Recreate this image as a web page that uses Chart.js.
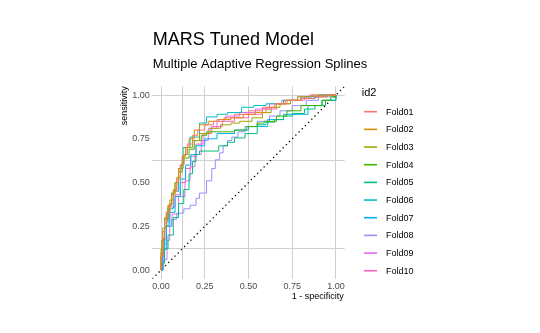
<!DOCTYPE html>
<html>
<head>
<meta charset="utf-8">
<script src="https://cdn.jsdelivr.net/npm/chart.js@4.4.1/dist/chart.umd.min.js"></script>
<style>
  html, body { margin: 0; padding: 0; background: #ffffff; }
  #wrap { width: 540px; height: 333px; }
</style>
</head>
<body>
<div id="wrap"><canvas id="roc" width="540" height="333"></canvas></div>
<script>
// === ROC data per fold (1 - specificity, sensitivity) ===
const foldNames = ["Fold01", "Fold02", "Fold03", "Fold04", "Fold05", "Fold06", "Fold07", "Fold08", "Fold09", "Fold10"];
const foldColors = ["#F8766D", "#D89000", "#A3A500", "#39B600", "#00BF7D", "#00BFC4", "#00B0F6", "#9590FF", "#E76BF3", "#FF62BC"];

const fold01Fpr = [0, 0, 0.01, 0.02, 0.03, 0.05, 0.07, 0.09, 0.11, 0.13, 0.15, 0.18, 0.21, 0.25, 0.3, 0.36, 0.42, 0.5, 0.58, 0.65, 0.72, 0.8, 0.88, 0.95, 1];
const fold01Tpr = [0, 0.08, 0.18, 0.27, 0.33, 0.38, 0.45, 0.52, 0.6, 0.66, 0.72, 0.77, 0.8, 0.83, 0.85, 0.87, 0.89, 0.91, 0.93, 0.95, 0.97, 0.98, 0.99, 1, 1];
const fold02Fpr = [0, 0, 0.01, 0.02, 0.04, 0.06, 0.08, 0.1, 0.12, 0.14, 0.16, 0.19, 0.22, 0.27, 0.33, 0.4, 0.47, 0.54, 0.6, 0.66, 0.71, 0.78, 0.86, 0.93, 1];
const fold02Tpr = [0, 0.1, 0.22, 0.3, 0.37, 0.43, 0.5, 0.58, 0.65, 0.7, 0.75, 0.8, 0.83, 0.85, 0.86, 0.87, 0.89, 0.9, 0.93, 0.95, 0.97, 0.99, 1, 1, 1];
const fold03Fpr = [0, 0, 0.01, 0.03, 0.05, 0.07, 0.09, 0.11, 0.13, 0.15, 0.18, 0.22, 0.28, 0.34, 0.4, 0.45, 0.52, 0.58, 0.63, 0.68, 0.74, 0.8, 0.88, 0.95, 1];
const fold03Tpr = [0, 0.12, 0.24, 0.33, 0.4, 0.46, 0.53, 0.6, 0.66, 0.7, 0.74, 0.78, 0.81, 0.83, 0.84, 0.85, 0.87, 0.9, 0.93, 0.95, 0.97, 0.98, 0.99, 1, 1];
const fold04Fpr = [0, 0, 0.005, 0.02, 0.04, 0.06, 0.08, 0.1, 0.12, 0.13, 0.16, 0.19, 0.23, 0.26, 0.35, 0.42, 0.49, 0.55, 0.59, 0.66, 0.72, 0.8, 0.92, 0.97, 1];
const fold04Tpr = [0, 0.08, 0.17, 0.29, 0.37, 0.44, 0.5, 0.56, 0.61, 0.64, 0.69, 0.74, 0.77, 0.79, 0.79, 0.8, 0.82, 0.84, 0.85, 0.88, 0.91, 0.94, 0.97, 0.99, 1];
const fold05Fpr = [0, 0.006, 0.02, 0.04, 0.07, 0.1, 0.13, 0.16, 0.18, 0.2, 0.22, 0.31, 0.33, 0.38, 0.42, 0.48, 0.55, 0.6, 0.65, 0.7, 0.75, 0.82, 0.88, 0.94, 1];
const fold05Tpr = [0, 0.04, 0.12, 0.2, 0.3, 0.38, 0.46, 0.55, 0.62, 0.66, 0.68, 0.68, 0.71, 0.73, 0.755, 0.78, 0.83, 0.845, 0.86, 0.88, 0.895, 0.92, 0.94, 0.97, 1];
const fold06Fpr = [0, 0, 0.005, 0.02, 0.04, 0.07, 0.1, 0.126, 0.166, 0.22, 0.26, 0.32, 0.38, 0.46, 0.53, 0.6, 0.7, 0.8, 0.9, 1];
const fold06Tpr = [0, 0.05, 0.1, 0.25, 0.35, 0.45, 0.58, 0.7, 0.76, 0.84, 0.875, 0.89, 0.9, 0.93, 0.94, 0.95, 0.97, 0.99, 1, 1];
const fold07Fpr = [0, 0.01, 0.03, 0.05, 0.08, 0.11, 0.14, 0.17, 0.2, 0.25, 0.32, 0.42, 0.5, 0.61, 0.7, 0.84, 0.92, 1];
const fold07Tpr = [0, 0.12, 0.25, 0.33, 0.42, 0.52, 0.6, 0.66, 0.71, 0.75, 0.78, 0.8, 0.82, 0.86, 0.89, 0.94, 0.97, 1];
const fold08Fpr = [0, 0.005, 0.02, 0.03, 0.06, 0.09, 0.13, 0.166, 0.2, 0.22, 0.26, 0.29, 0.31, 0.335, 0.355, 0.38, 0.405, 0.44, 0.48, 0.55, 0.62, 0.68, 0.75, 0.83, 0.9, 1];
const fold08Tpr = [0, 0.05, 0.15, 0.25, 0.29, 0.325, 0.35, 0.37, 0.41, 0.44, 0.51, 0.58, 0.63, 0.67, 0.71, 0.74, 0.76, 0.79, 0.82, 0.85, 0.88, 0.91, 0.94, 0.97, 0.99, 1];
const fold09Fpr = [0, 0.015, 0.034, 0.05, 0.063, 0.1, 0.137, 0.166, 0.194, 0.23, 0.27, 0.32, 0.37, 0.45, 0.54, 0.62, 0.69, 0.78, 0.85, 1];
const fold09Tpr = [0, 0.06, 0.17, 0.25, 0.32, 0.42, 0.51, 0.59, 0.66, 0.74, 0.81, 0.86, 0.88, 0.9, 0.92, 0.95, 0.97, 0.99, 1, 1];
const fold10Fpr = [0, 0.005, 0.015, 0.03, 0.05, 0.08, 0.11, 0.14, 0.17, 0.2, 0.24, 0.29, 0.35, 0.42, 0.5, 0.58, 0.66, 0.74, 0.82, 0.9, 1];
const fold10Tpr = [0, 0.07, 0.18, 0.28, 0.36, 0.43, 0.5, 0.58, 0.65, 0.72, 0.78, 0.82, 0.85, 0.87, 0.89, 0.92, 0.95, 0.97, 0.99, 1, 1];

const foldFpr = [fold01Fpr, fold02Fpr, fold03Fpr, fold04Fpr, fold05Fpr, fold06Fpr, fold07Fpr, fold08Fpr, fold09Fpr, fold10Fpr];
const foldTpr = [fold01Tpr, fold02Tpr, fold03Tpr, fold04Tpr, fold05Tpr, fold06Tpr, fold07Tpr, fold08Tpr, fold09Tpr, fold10Tpr];

const axisTicks = [0, 0.125, 0.25, 0.375, 0.5, 0.625, 0.75, 0.875, 1];
const labelTicks = [0, 0.25, 0.5, 0.75, 1];
const xGridShown = [0, 0.125, 0.25, 0.5, 0.75, 1];
const yGridShown = [0.125, 0.625, 1];

const FONT = "'Liberation Sans', Arial, sans-serif";
const near = (v, list) => list.some((t) => Math.abs(t - v) < 1e-6);

// === Build datasets (ROC curves are step functions) ===
const datasets = foldNames.map((name, i) => ({
  label: name,
  data: foldFpr[i].map((x, j) => ({ x, y: foldTpr[i][j] })),
  borderColor: foldColors[i],
  borderWidth: 1,
  pointRadius: 0,
  stepped: "before",
  fill: false,
}));

// dotted diagonal reference line
datasets.push({
  label: "diag",
  data: [{ x: -0.05, y: -0.05 }, { x: 1.05, y: 1.05 }],
  borderColor: "#000000",
  borderWidth: 1.3,
  borderDash: [1.3, 3.2],
  pointRadius: 0,
  fill: false,
});

// === Titles, axis titles and legend drawn on the canvas ===
const decorations = {
  id: "decorations",
  afterDraw(chart) {
    const ctx = chart.ctx;
    const area = chart.chartArea;
    ctx.save();
    ctx.textBaseline = "alphabetic";
    ctx.textAlign = "left";
    ctx.fillStyle = "#000000";
    ctx.font = `18px ${FONT}`;
    ctx.fillText("MARS Tuned Model", 152.7, 45);
    ctx.font = `13px ${FONT}`;
    ctx.fillText("Multiple Adaptive Regression Splines", 152.7, 67.5);

    // axis titles (ggplot hjust = 1)
    ctx.font = `9px ${FONT}`;
    ctx.textAlign = "right";
    ctx.textBaseline = "middle";
    ctx.fillText("1 - specificity", area.right - 1, 296.7);
    ctx.save();
    ctx.translate(125, area.top);
    ctx.rotate(-Math.PI / 2);
    ctx.textAlign = "right";
    ctx.fillText("sensitivity", 0, 0);
    ctx.restore();

    // legend
    ctx.textAlign = "left";
    ctx.font = `11px ${FONT}`;
    ctx.fillText("id2", 361.7, 92.7);
    ctx.font = `9px ${FONT}`;
    foldNames.forEach((name, i) => {
      const y = 111.7 + i * 17.67;
      ctx.strokeStyle = foldColors[i];
      ctx.lineWidth = 1.6;
      ctx.beginPath();
      ctx.moveTo(364, y);
      ctx.lineTo(377, y);
      ctx.stroke();
      ctx.fillStyle = "#000000";
      ctx.fillText(name, 386, y + 0.5);
    });
    ctx.restore();
  },
};

const gridColorFor = (shown) => (c) => (c.tick && near(c.tick.value, shown) ? "#cfcfcf" : "rgba(0,0,0,0)");

new Chart(document.getElementById("roc").getContext("2d"), {
  type: "line",
  data: { datasets },
  options: {
    responsive: false,
    animation: false,
    layout: { padding: { left: 128.3, top: 86.3, right: 195.3, bottom: 34.2 } },
    plugins: {
      legend: { display: false },
      tooltip: { enabled: false },
    },
    scales: {
      x: {
        type: "linear",
        min: -0.05,
        max: 1.05,
        afterBuildTicks: (scale) => { scale.ticks = axisTicks.map((v) => ({ value: v })); },
        afterFit: (scale) => { scale.height = 20; },
        border: { display: false },
        grid: { color: gridColorFor(xGridShown), lineWidth: 1, drawTicks: false },
        ticks: {
          autoSkip: false,
          maxRotation: 0,
          padding: 2,
          color: "#4d4d4d",
          font: { family: FONT, size: 9 },
          callback: (v) => (near(v, labelTicks) ? Number(v).toFixed(2) : ""),
        },
      },
      y: {
        type: "linear",
        min: -0.05,
        max: 1.05,
        afterBuildTicks: (scale) => { scale.ticks = axisTicks.map((v) => ({ value: v })); },
        afterFit: (scale) => { scale.width = 24; },
        border: { display: false },
        grid: { color: gridColorFor(yGridShown), lineWidth: 1, drawTicks: false },
        ticks: {
          autoSkip: false,
          padding: 2.5,
          color: "#4d4d4d",
          font: { family: FONT, size: 9 },
          callback: (v) => (near(v, labelTicks) ? Number(v).toFixed(2) : ""),
        },
      },
    },
  },
  plugins: [decorations],
});
</script>
</body>
</html>
